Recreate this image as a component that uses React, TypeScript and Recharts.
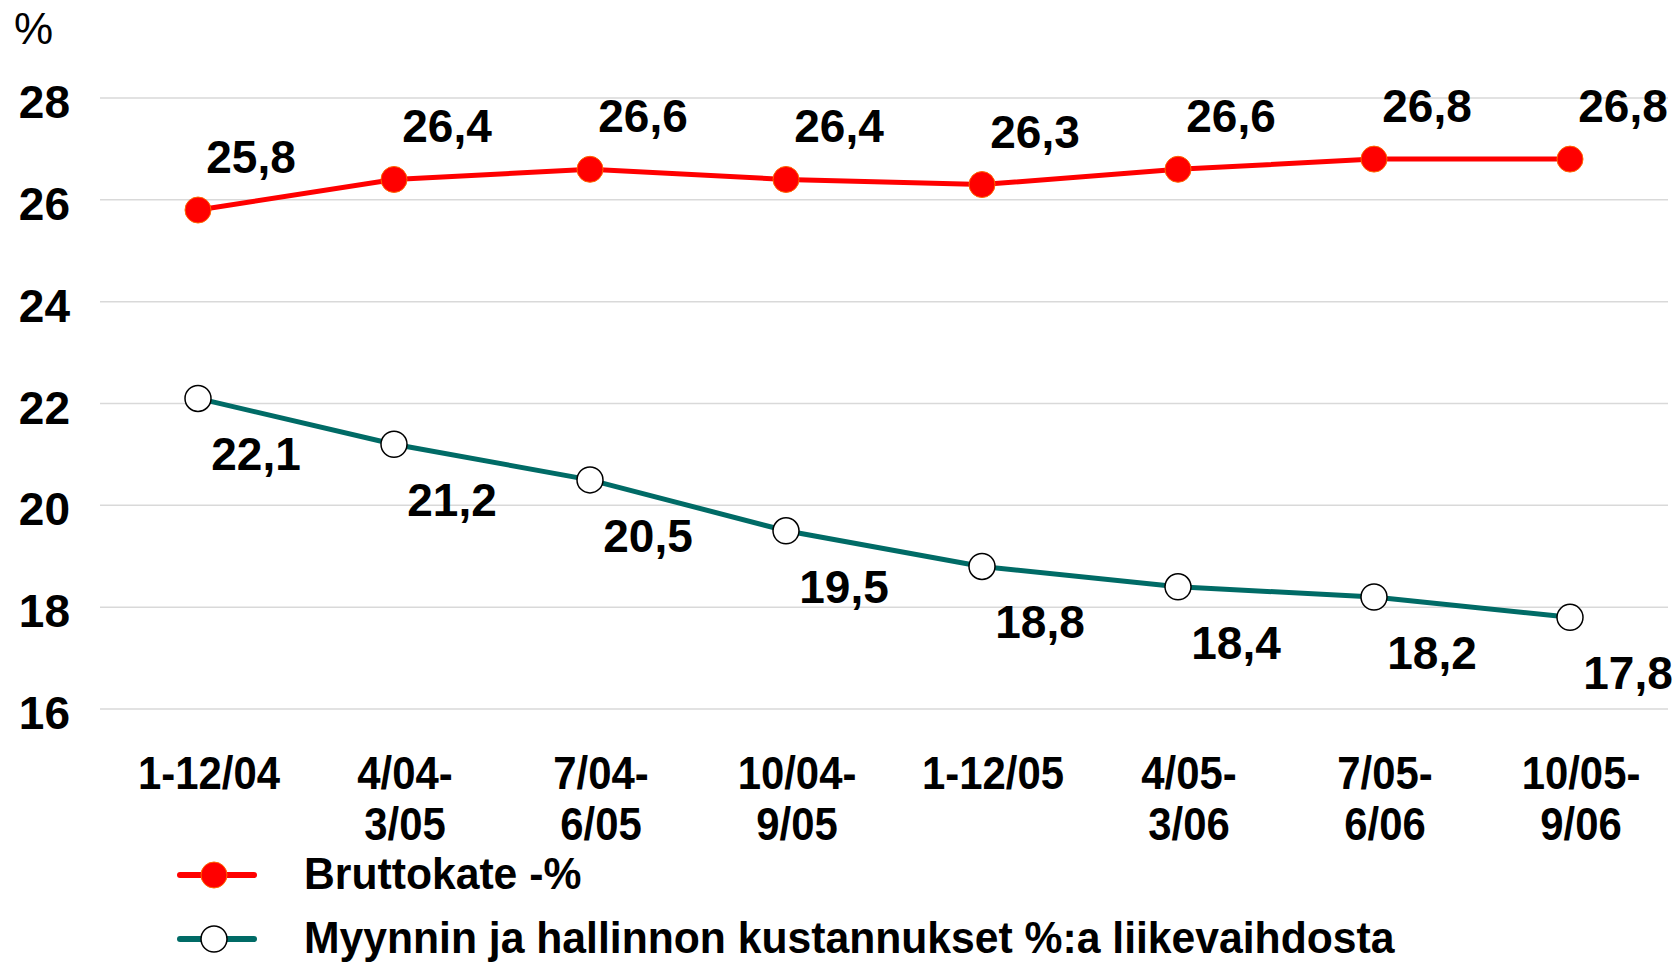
import React from 'react';
import { LineChart, Line, XAxis, YAxis, CartesianGrid, Legend, LabelList } from 'recharts';

// periods (two-line labels split with \n)
const periods = [
  '1-12/04',
  '4/04-\n3/05',
  '7/04-\n6/05',
  '10/04-\n9/05',
  '1-12/05',
  '4/05-\n3/06',
  '7/05-\n6/06',
  '10/05-\n9/06',
];
const grossMargin = [25.8, 26.4, 26.6, 26.4, 26.3, 26.6, 26.8, 26.8];
const sgaCosts = [22.1, 21.2, 20.5, 19.5, 18.8, 18.4, 18.2, 17.8];
const yTicks = [16, 18, 20, 22, 24, 26, 28];
const seriesNames = ['Bruttokate -%', 'Myynnin ja hallinnon kustannukset %:a liikevaihdosta'];

const data = periods.map((p, i) => ({ period: p, gross: grossMargin[i], sga: sgaCosts[i] }));

const FONT = '"Liberation Sans", Arial, sans-serif';
const RED = '#FF0000';
const TEAL = '#006B66';

const fmt = (v: number) => v.toFixed(1).replace('.', ',');

function PeriodTick({ x, y, payload }: any) {
  const lines = String(payload.value).split('\n');
  return (
    <g transform={`translate(${x + 11},${y})`}>
      <text textAnchor="middle" fontSize={46} fontWeight="bold" fill="#000" fontFamily={FONT} transform="scale(0.91,1)">
        {lines.map((l, i) => (
          <tspan key={i} x={0} y={80 + i * 51}>
            {l}
          </tspan>
        ))}
      </text>
    </g>
  );
}

function ValueTick({ x, y, payload }: any) {
  return (
    <text x={x} y={y + 4} textAnchor="end" dominantBaseline="central" fontSize={46} fontWeight="bold" fill="#000" fontFamily={FONT}>
      {payload.value}
    </text>
  );
}

const makeValueLabel = (dx: number, dy: number) => (props: any) => {
  const { x, y, value } = props;
  return (
    <text
      x={x + dx}
      y={y + dy}
      textAnchor="middle"
      dominantBaseline="central"
      fontSize={46}
      fontWeight="bold"
      fill="#000"
      fontFamily={FONT}
    >
      {fmt(value)}
    </text>
  );
};

function LegendContent() {
  const rows = [
    { name: seriesNames[0], color: RED, fill: RED, stroke: '#FF6600', sw: 1 },
    { name: seriesNames[1], color: TEAL, fill: '#fff', stroke: '#000', sw: 1.5 },
  ];
  return (
    <div style={{ position: 'relative', width: 1679, height: 120 }}>
      {rows.map((r) => (
        <div key={r.name} style={{ position: 'relative', height: 64 }}>
          <svg width={80} height={40} style={{ position: 'absolute', left: 177, top: 12 }}>
            <line x1={3} y1={20} x2={77} y2={20} stroke={r.color} strokeWidth={6} strokeLinecap="round" />
            <circle cx={37} cy={20} r={13} fill={r.fill} stroke={r.stroke} strokeWidth={r.sw} />
          </svg>
          <span
            style={{
              position: 'absolute',
              left: 304,
              top: 5,
              fontFamily: FONT,
              fontWeight: 'bold',
              fontSize: 45,
              lineHeight: '52px',
              whiteSpace: 'nowrap',
              color: '#000',
              transform: 'scaleX(0.948)',
              transformOrigin: 'left center',
            }}
          >
            {r.name}
          </span>
        </div>
      ))}
    </div>
  );
}

export default function App() {
  return (
    <div style={{ position: 'absolute', left: 0, top: 0, width: 1679, height: 963, background: '#fff', fontFamily: FONT }}>
      <LineChart width={1679} height={963} data={data} margin={{ top: 98, right: 11, bottom: 0, left: 0 }}>
        <CartesianGrid horizontal vertical={false} stroke="#d9d9d9" strokeWidth={1.5} />
        <XAxis
          dataKey="period"
          axisLine={false}
          tickLine={false}
          tickSize={0}
          tickMargin={0}
          height={134}
          interval={0}
          padding={{ left: 98, right: 98 }}
          tick={<PeriodTick />}
        />
        <YAxis
          domain={[16, 28]}
          ticks={yTicks}
          axisLine={false}
          tickLine={false}
          tickSize={0}
          tickMargin={30}
          width={100}
          tick={<ValueTick />}
          label={{
            content: () => (
              <text x={14} y={44} fontSize={44} fill="#000" fontFamily={FONT}>
                %
              </text>
            ),
          }}
        />
        <Legend verticalAlign="bottom" align="left" wrapperStyle={{ height: 120, width: 1679, left: 0 }} content={<LegendContent />} />
        <Line
          name={seriesNames[0]}
          dataKey="gross"
          stroke={RED}
          strokeWidth={5}
          dot={{ r: 13, fill: RED, stroke: '#FF6600', strokeWidth: 1 }}
          isAnimationActive={false}
        >
          <LabelList dataKey="gross" content={makeValueLabel(53, -53)} />
        </Line>
        <Line
          name={seriesNames[1]}
          dataKey="sga"
          stroke={TEAL}
          strokeWidth={5}
          dot={{ r: 13, fill: '#fff', stroke: '#000', strokeWidth: 1.5 }}
          isAnimationActive={false}
        >
          <LabelList dataKey="sga" content={makeValueLabel(58, 56)} />
        </Line>
      </LineChart>
    </div>
  );
}
